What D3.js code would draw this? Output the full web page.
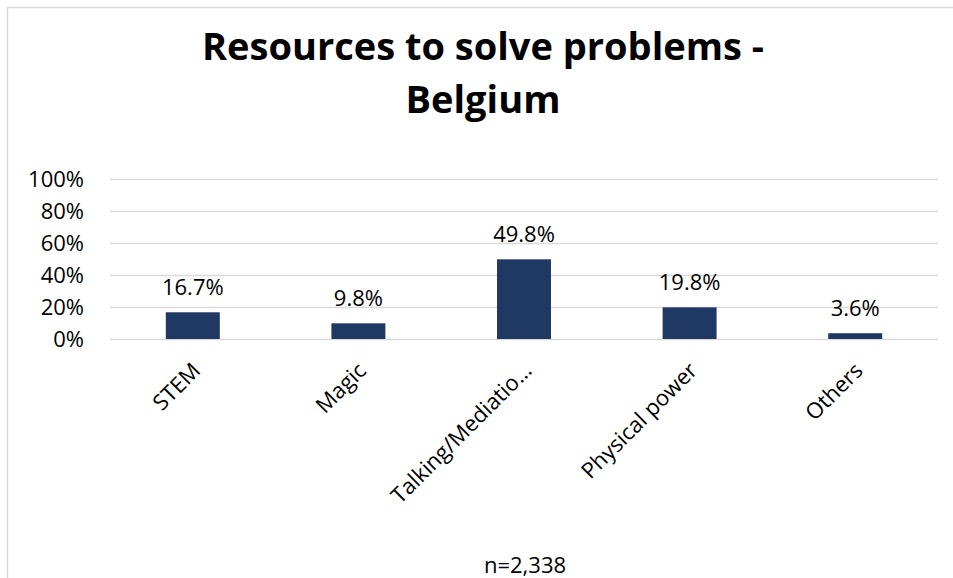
<!DOCTYPE html>
<html>
<head>
<meta charset="utf-8">
<script src="https://cdn.jsdelivr.net/npm/d3@7"></script>
<style>
  html, body { margin: 0; padding: 0; background: #fff; }
  svg { display: block; }
  text { font-family: "Open Sans", sans-serif; fill: #000; }
</style>
</head>
<body>
<svg id="chart" width="953" height="578"></svg>
<script>
const titleLines = ["Resources to solve problems -", "Belgium"];
const categories = ["STEM", "Magic", "Talking/Mediatio…", "Physical power", "Others"];
const values = [16.7, 9.8, 49.8, 19.8, 3.6];
const yTicks = [0, 20, 40, 60, 80, 100];
const footnote = "n=2,338";

const W = 953, H = 578;
const svg = d3.select("#chart");

// chart border
svg.append("rect")
  .attr("x", 7.5).attr("y", 7.5)
  .attr("width", W + 20).attr("height", H + 20)
  .attr("fill", "none").attr("stroke", "#d9d9d9").attr("stroke-width", 1.5);

const margin = { left: 110, right: 15, top: 179, bottom: 239 };
const x = d3.scaleBand().domain(categories)
  .range([margin.left, W - margin.right])
  .paddingInner(0.674).paddingOuter(0.337);
const y = d3.scaleLinear().domain([0, 100]).range([H - margin.bottom, margin.top]);

// title
svg.append("g").selectAll("text").data(titleLines).join("text")
  .attr("x", 483).attr("y", (d, i) => 60 + i * 53)
  .attr("text-anchor", "middle")
  .attr("font-size", 38).attr("font-weight", 700)
  .text(d => d);

// gridlines + y tick labels
const yAxis = d3.axisLeft(y).tickValues(yTicks).tickFormat(d => d + "%")
  .tickSize(-(W - margin.right - margin.left)).tickPadding(26);
const gy = svg.append("g").attr("transform", `translate(${margin.left},0)`).call(yAxis);
gy.select(".domain").remove();
gy.selectAll(".tick line").attr("stroke", "#d9d9d9").attr("stroke-width", 1.5);
gy.selectAll(".tick text").attr("font-size", 22).attr("fill", "#000")
  .attr("font-family", "'Open Sans', sans-serif");

// bars
svg.append("g").selectAll("rect").data(values).join("rect")
  .attr("x", (d, i) => x(categories[i]))
  .attr("width", x.bandwidth())
  .attr("y", d => y(d))
  .attr("height", d => y(0) - y(d))
  .attr("fill", "#203864");

// data labels
svg.append("g").selectAll("text").data(values).join("text")
  .attr("x", (d, i) => x(categories[i]) + x.bandwidth() / 2)
  .attr("y", d => y(d) - 17)
  .attr("text-anchor", "middle")
  .attr("font-size", 22)
  .text(d => d.toFixed(1) + "%");

// category axis labels
const xAxis = d3.axisBottom(x).tickSize(0).tickPadding(0);
const gx = svg.append("g").attr("transform", `translate(0,${y(0)})`).call(xAxis);
gx.select(".domain").remove();
gx.selectAll(".tick text")
  .attr("font-size", 22).attr("fill", "#000")
  .attr("font-family", "'Open Sans', sans-serif")
  .attr("text-anchor", "end")
  .attr("dy", null)
  .attr("transform", "translate(9,33) rotate(-45)");

// footnote
svg.append("text")
  .attr("x", 525).attr("y", 573)
  .attr("text-anchor", "middle")
  .attr("font-size", 22)
  .text(footnote);
</script>
</body>
</html>
